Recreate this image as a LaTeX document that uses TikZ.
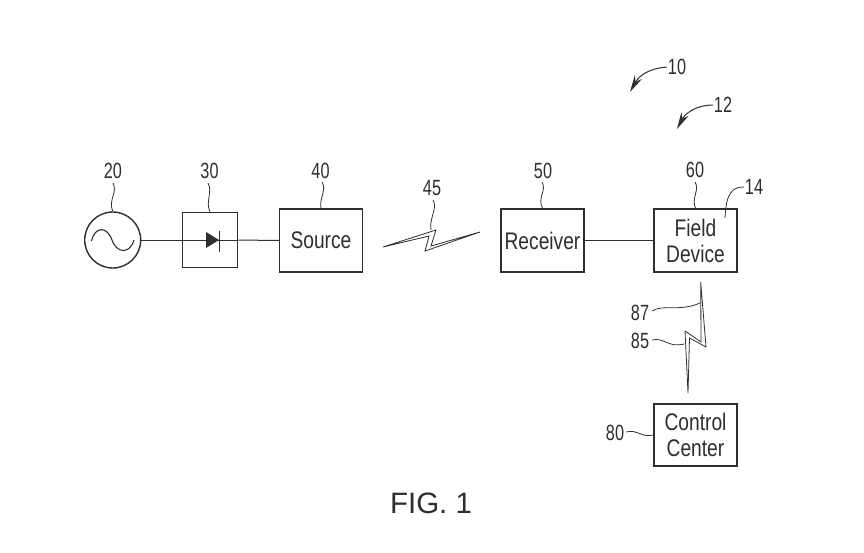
\documentclass[tikz,border=0pt]{standalone}
\usepackage{fontspec}
\setmainfont{Liberation Sans}
\newfontfamily\numfont[FakeStretch=0.74]{Liberation Sans}
\newfontfamily\boxfont[FakeStretch=0.8]{Liberation Sans}
\usetikzlibrary{arrows.meta}
\definecolor{ink}{HTML}{2E2E2E}
\tikzset{
  boxs/.style={draw=ink,line width=1.4pt,minimum width=83pt,minimum height=63pt,inner sep=0pt,text=ink,align=center,font=\fontsize{24}{26}\boxfont},
  num/.style={text=ink,inner sep=0pt,font=\fontsize{22}{22}\numfont},
  lead/.style={draw=ink,line width=0.8pt},
  wire/.style={draw=ink,line width=1pt},
  bolt/.style={draw=ink,line width=0.8pt,fill=white,line join=miter},
  ptr/.style={draw=ink,line width=1pt,-{Stealth[length=17pt,width=8pt]}},
}
\begin{document}
\begin{tikzpicture}[x=1pt,y=-1pt]
\useasboundingbox (0,0) rectangle (864,552);
% components
\node[draw=ink,line width=1.4pt,circle,minimum size=56pt,inner sep=0pt] (ac) at (112.7,240) {};
\node[boxs,line width=1.8pt,minimum width=55pt,minimum height=55pt] (rect) at (210,240) {};
\node[boxs] (source) at (321,240.5) {Source};
\node[boxs] (receiver) at (542.5,240.5) {Receiver};
\node[boxs] (field) at (695.5,240.5) {Field\\Device};
\node[boxs,minimum height=62pt] (control) at (695.5,435) {Control\\Center};
% wires
\draw[wire] (ac.east) -- (rect.west);
\draw[wire] (rect.west) -- (rect.east);
\draw[wire] (rect.east) -- (source.west);
\draw[wire] (receiver.east) -- (field.west);
% sine and diode
\draw[draw=ink,line width=1.1pt] (91.5,241) .. controls (95,226) and (107,226) .. (112,240) .. controls (117,254) and (130,254) .. (134,240);
\fill[ink] (206,232) -- (219,240) -- (206,248) -- cycle;
\draw[draw=ink,line width=1.2pt] (219.5,231) -- (219.5,252);
% bolts
\draw[bolt] (383,247) -- (436,230) -- (431,246) -- (480,232) -- (425,251) -- (429,236) -- cycle;
\draw[bolt] (700.7,282) -- (706,347) -- (689.5,338) -- (688,393) -- (685,331) -- (701,342) -- cycle;
% labels
\node[num] (n20) at (113,171) {20};
\node[num] (n30) at (209.5,171) {30};
\node[num] (n40) at (320.5,171) {40};
\node[num] (n45) at (432,188) {45};
\node[num] (n50) at (543,171) {50};
\node[num] (n60) at (695,170) {60};
\node[num] (n14) at (754,187) {14};
\node[num] (n10) at (677,67) {10};
\node[num] (n12) at (723,105) {12};
\node[num] (n87) at (640,313) {87};
\node[num] (n85) at (640,341) {85};
\node[num] (n80) at (615,433) {80};
\node[text=ink,inner sep=0pt,font=\fontsize{29.5}{30}\selectfont] (fig) at (431,503) {FIG. 1};
% named free ends
\coordinate (a45) at (431,230);
\coordinate (a14) at (725,218);
\coordinate (a87) at (700,303);
\coordinate (a85) at (684,344);
\coordinate (t10) at (630,92);
\coordinate (t12) at (677,129);
% leaders
\draw[lead] (113,183) .. controls (118,192) and (108,200) .. (ac.north);
\draw[lead] (208,183) .. controls (213,192) and (205,202) .. (rect.north);
\draw[lead] (322,182) .. controls (327,190) and (319,198) .. (source.north);
\draw[lead] (433,200) .. controls (438,208) and (429,218) .. (a45);
\draw[lead] (542,182) .. controls (547,190) and (537,198) .. (receiver.north);
\draw[lead] (695,182) .. controls (700,190) and (691,198) .. (field.north);
\draw[lead] (n14.west) ++(-1,0) .. controls (733,187) and (726,192) .. (a14);
\draw[lead] (n87.east) ++(3,-2) .. controls (662,304) and (680,312) .. (a87);
\draw[lead] (n85.east) ++(3,-1) .. controls (664,337) and (668,348) .. (a85);
\draw[lead] (n80.east) ++(2,-1) .. controls (637,429) and (642,438) .. (control.west);
% pointers
\draw[ptr] (n10.west) ++(-1,0) .. controls (652,68) and (640,74) .. (t10);
\draw[ptr] (n12.west) ++(-1,0) .. controls (698,105) and (686,112) .. (t12);
\end{tikzpicture}
\end{document}
